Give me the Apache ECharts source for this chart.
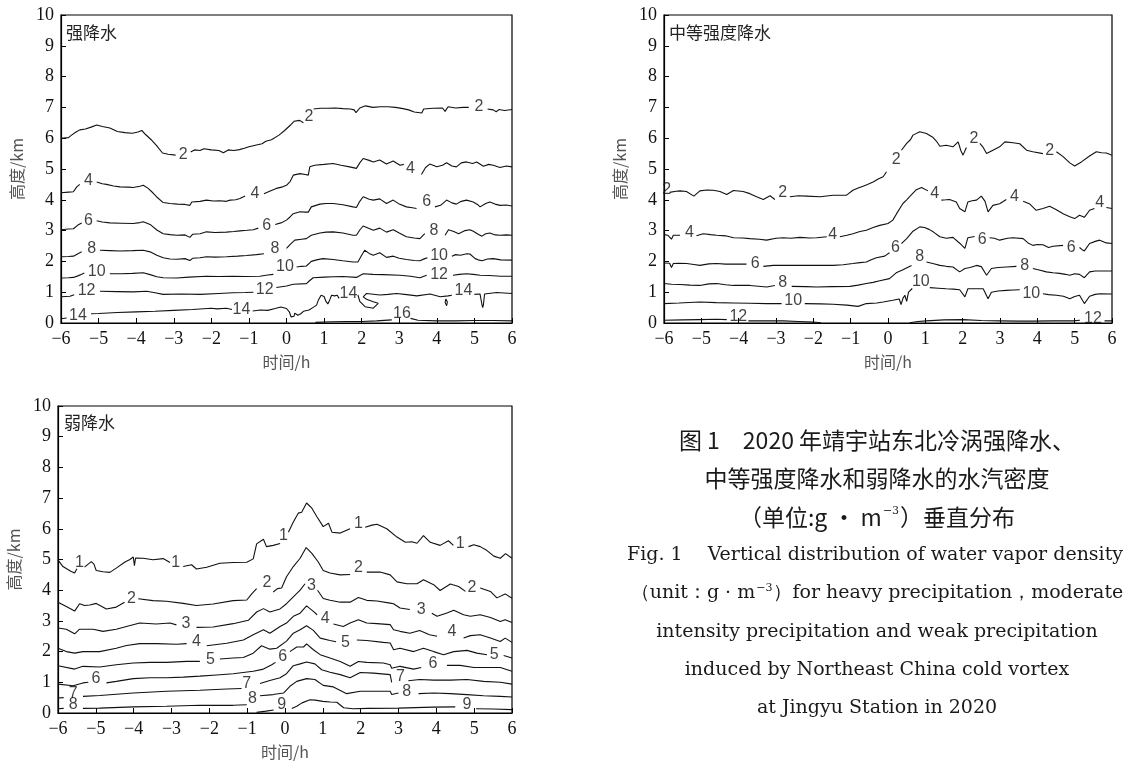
<!DOCTYPE html>
<html>
<head>
<meta charset="utf-8">
<script src="https://cdn.jsdelivr.net/npm/echarts@6/dist/echarts.min.js"></script>
<style>
html,body{margin:0;padding:0;background:#fff;}
#chart{width:1126px;height:765px;}
</style>
</head>
<body>
<div id="chart"></div>
<script>
// ---------- axis ticks ----------
const xTicks = [-6,-5,-4,-3,-2,-1,0,1,2,3,4,5,6];
const yTicks = [0,1,2,3,4,5,6,7,8,9,10];

// ---------- panel titles ----------
const panelTitles = ['强降水', '中等强度降水', '弱降水'];

// ---------- Panel 1: heavy precipitation contours (time h, height km); null = gap ----------
const p1c2 = [[-6,6.0],[-5.8,6.02],[-5.72,6.1],[-5.6,6.2],[-5.5,6.27],[-5.35,6.3],[-5.2,6.36],[-5.05,6.43],[-4.9,6.38],[-4.7,6.33],[-4.5,6.22],[-4.3,6.18],[-4.1,6.16],[-3.95,6.2],[-3.85,6.25],[-3.75,6.12],[-3.6,5.95],[-3.45,5.75],[-3.3,5.52],[-3.15,5.48],[-2.95,5.45],null,
[-2.55,5.55],[-2.45,5.62],[-2.3,5.6],[-2.2,5.66],[-2.0,5.62],[-1.8,5.6],[-1.68,5.53],[-1.55,5.62],[-1.4,5.6],[-1.25,5.63],[-1.1,5.68],[-1.0,5.72],[-0.8,5.78],[-0.65,5.82],[-0.55,5.9],[-0.4,5.95],[-0.2,6.1],[-0.05,6.25],[0.1,6.42],[0.2,6.55],[0.35,6.58],[0.45,6.5],null,
[0.72,6.95],[0.9,6.97],[1.1,6.97],[1.3,6.98],[1.5,6.96],[1.7,6.95],[1.8,6.92],[1.85,6.83],[1.95,6.98],[2.1,7.05],[2.3,7.0],[2.5,7.02],[2.7,7.02],[2.9,7.0],[3.1,6.96],[3.25,6.92],[3.4,6.85],[3.6,6.82],[3.65,6.95],[3.9,6.97],[4.15,6.98],[4.22,6.87],[4.3,7.02],[4.5,6.98],[4.7,7.0],[4.85,7.0],null,
[5.35,6.95],[5.5,6.92],[5.58,6.86],[5.65,6.93],[5.8,6.9],[6,6.93]];
const p1c4 = [[-6,4.23],[-5.8,4.25],[-5.67,4.26],[-5.58,4.42],[-5.5,4.5],null,
[-5.05,4.58],[-4.9,4.52],[-4.79,4.5],[-4.6,4.45],[-4.43,4.42],[-4.2,4.41],[-4.08,4.4],[-3.9,4.44],[-3.81,4.47],[-3.68,4.37],[-3.55,4.22],[-3.46,4.1],[-3.28,3.91],[-3.1,3.88],[-2.9,3.86],[-2.7,3.85],[-2.57,3.82],[-2.52,3.93],[-2.3,3.95],[-2.13,3.99],[-1.95,3.96],[-1.77,3.97],[-1.6,3.95],[-1.5,3.99],[-1.35,4.0],[-1.24,4.04],[-1.1,4.12],null,
[-0.6,4.2],[-0.45,4.28],[-0.27,4.37],[-0.1,4.42],[0,4.47],[0.1,4.6],[0.18,4.8],[0.36,4.85],[0.5,4.82],[0.58,4.8],[0.62,5.07],[0.75,5.12],[1.0,5.15],[1.24,5.18],[1.45,5.12],[1.68,5.07],[1.86,5.02],[1.95,5.2],[2.04,5.34],[2.2,5.28],[2.31,5.23],[2.48,5.29],[2.66,5.16],[2.84,5.26],[3.02,5.12],[3.12,5.15],null,
[3.59,4.82],[3.7,5.05],[3.81,5.16],[4.0,5.07],[4.15,5.12],[4.26,5.2],[4.4,5.1],[4.52,5.07],[4.65,5.2],[4.79,5.23],[4.95,5.18],[5.06,5.23],[5.24,5.09],[5.38,5.15],[5.5,5.12],[5.68,5.05],[5.85,5.1],[6,5.07]];
const p1c6 = [[-6,3.03],[-5.8,3.05],[-5.67,3.06],[-5.55,3.18],[-5.45,3.25],null,
[-5.05,3.32],[-4.9,3.28],[-4.7,3.25],[-4.4,3.24],[-4.08,3.23],[-3.9,3.26],[-3.81,3.29],[-3.63,3.2],[-3.45,3.02],[-3.28,2.9],[-3.1,2.87],[-2.92,2.85],[-2.7,2.86],[-2.57,2.78],[-2.5,2.88],[-2.3,2.9],[-2.13,2.96],[-1.9,2.94],[-1.6,2.95],[-1.4,2.97],[-1.24,2.99],[-1.05,3.01],[-0.88,3.03],[-0.75,3.08],null,
[-0.3,3.2],[-0.15,3.25],[0,3.34],[0.1,3.45],[0.18,3.55],[0.36,3.61],[0.5,3.6],[0.58,3.6],[0.66,3.77],[0.89,3.86],[1.05,3.88],[1.24,3.88],[1.5,3.84],[1.77,3.77],[1.86,3.75],[1.95,3.95],[2.04,4.1],[2.2,4.02],[2.31,3.99],[2.48,4.03],[2.66,3.88],[2.84,3.99],[3.0,3.86],[3.19,3.77],[3.35,3.74],[3.46,3.72],null,
[3.95,3.77],[4.1,3.82],[4.26,3.99],[4.4,3.9],[4.52,3.86],[4.65,3.95],[4.79,3.99],[4.97,3.93],[5.08,3.85],[5.15,3.77],[5.3,3.88],[5.41,3.93],[5.55,3.86],[5.68,3.82],[5.85,3.83],[6,3.8]];
const p1c8 = [[-6,2.15],[-5.8,2.16],[-5.67,2.17],[-5.55,2.25],[-5.45,2.31],null,
[-4.96,2.36],[-4.7,2.35],[-4.43,2.34],[-4.1,2.35],[-3.81,2.36],[-3.63,2.31],[-3.45,2.2],[-3.28,2.12],[-3.1,2.08],[-2.92,2.07],[-2.7,2.09],[-2.57,2.03],[-2.5,2.1],[-2.3,2.12],[-2.13,2.15],[-1.9,2.14],[-1.6,2.15],[-1.3,2.17],[-1.06,2.19],[-0.8,2.22],[-0.6,2.25],null,
[0,2.42],[0.1,2.55],[0.22,2.69],[0.4,2.72],[0.53,2.74],[0.66,2.85],[0.89,2.92],[1.05,2.95],[1.24,2.96],[1.5,2.92],[1.77,2.85],[1.86,2.85],[1.95,3.02],[2.04,3.15],[2.2,3.07],[2.31,3.01],[2.48,3.08],[2.66,2.95],[2.84,3.03],[3.0,2.92],[3.19,2.8],[3.4,2.76],[3.55,2.74],[3.68,2.9],null,
[4.22,2.85],[4.31,3.03],[4.45,2.97],[4.58,2.9],[4.75,3.0],[4.88,3.03],[4.97,2.98],[5.1,2.88],[5.2,2.82],[5.3,2.9],[5.41,2.92],[5.55,2.86],[5.68,2.85],[5.85,2.86],[6,2.85]];
const p1c10 = [[-6,1.46],[-5.8,1.47],[-5.67,1.48],[-5.55,1.53],[-5.45,1.58],[-5.38,1.62],null,
[-4.7,1.6],[-4.4,1.6],[-4.1,1.61],[-3.81,1.63],[-3.63,1.57],[-3.45,1.5],[-3.28,1.47],[-2.92,1.46],[-2.6,1.49],[-2.13,1.52],[-1.8,1.51],[-1.42,1.52],[-1.1,1.51],[-0.71,1.52],[-0.5,1.56],[-0.35,1.58],null,
[0.27,1.82],[0.4,1.84],[0.53,1.85],[0.66,2.0],[0.8,2.05],[0.97,2.09],[1.24,2.06],[1.5,2.02],[1.77,1.98],[1.9,1.98],[2.0,2.2],[2.08,2.36],[2.2,2.26],[2.31,2.2],[2.48,2.28],[2.66,2.13],[2.84,2.17],[3.0,2.1],[3.19,2.06],[3.4,2.03],[3.55,2.02],[3.68,2.09],[3.75,2.12],null,
[4.4,2.17],[4.5,2.22],[4.63,2.2],[4.8,2.25],[4.88,2.24],[5.02,2.09],[5.1,2.05],[5.2,2.02],[5.35,2.08],[5.5,2.09],[5.7,2.05],[6,2.04]];
const p1c12 = [[-6,0.85],[-5.76,0.87],[-5.65,0.92],null,
[-4.96,1.03],[-4.5,1.02],[-4.08,1.01],[-3.72,1.03],[-3.5,0.98],[-3.28,0.93],[-2.8,0.94],[-2.3,0.93],[-1.8,0.96],[-1.42,0.98],[-1.1,0.99],[-0.88,1.0],null,
[-0.27,1.15],[0,1.2],[0.18,1.26],[0.53,1.28],[0.62,1.38],[0.71,1.47],[1.0,1.49],[1.24,1.5],[1.5,1.51],[1.86,1.48],[2.04,1.6],[2.3,1.58],[2.57,1.57],[3.02,1.55],[3.3,1.52],[3.55,1.47],[3.73,1.55],null,
[4.43,1.55],[4.6,1.58],[4.79,1.6],[4.97,1.58],[5.15,1.55],[5.4,1.54],[5.7,1.52],[6,1.52]];
const p1c14 = [[-6,0.14],[-5.85,0.16],null,
[-5.2,0.3],[-5.0,0.31],[-4.5,0.34],[-4.0,0.36],[-3.5,0.38],[-3.0,0.41],[-2.5,0.44],[-2.0,0.48],[-1.95,0.52],[-1.85,0.46],[-1.6,0.48],[-1.45,0.44],null,
[-0.9,0.39],[-0.7,0.42],[-0.5,0.41],[-0.3,0.47],[-0.15,0.52],[0.0,0.47],[0.08,0.35],[0.12,0.2],[0.2,0.22],[0.22,0.32],[0.3,0.25],[0.38,0.3],[0.45,0.38],[0.6,0.42],[0.7,0.5],[0.8,0.58],[0.85,0.75],[0.92,0.9],[1.0,0.86],[1.05,0.7],[1.1,0.62],[1.15,0.75],[1.2,0.9],[1.28,0.88],[1.35,0.9],[1.4,0.8],null,
[1.9,0.91],[1.95,0.7],[2.09,0.53],[2.31,0.48],[2.44,0.64],[2.31,0.69],[2.13,0.77],[2.04,0.85],[2.13,0.96],[2.49,0.91],[2.7,0.93],[2.93,0.96],[3.2,0.92],[3.47,0.88],[3.82,0.94],[4.09,0.85],[4.3,0.88],[4.4,0.9],null,
[5.0,0.93],[5.15,0.94],[5.2,0.6],[5.22,0.5],[5.24,0.6],[5.27,0.94],[5.59,0.99],[6,0.96],null,
[4.24,0.78],[4.28,0.68],[4.26,0.56],[4.22,0.67],[4.24,0.78]];
const p1c16 = [[0.77,0.02],[1.2,0.04],[1.6,0.05],[2.0,0.05],[2.4,0.07],[2.8,0.1],null,
[3.3,0.15],[3.5,0.09],[4.0,0.07],[4.5,0.07],[5.0,0.08],[5.5,0.08],[6,0.07]];
const p1Labels = [[-2.75,5.47,'2'],[0.6,6.7,'2'],[5.12,7.02,'2'],
[-5.27,4.62,'4'],[-0.84,4.2,'4'],[3.3,5.02,'4'],
[-5.27,3.33,'6'],[-0.53,3.17,'6'],[3.73,3.93,'6'],
[-5.18,2.42,'8'],[-0.31,2.42,'8'],[3.92,3.0,'8'],
[-5.05,1.66,'10'],[-0.04,1.82,'10'],[4.06,2.2,'10'],
[-5.32,1.04,'12'],[-0.58,1.08,'12'],[4.06,1.58,'12'],
[-5.55,0.25,'14'],[-1.2,0.43,'14'],[1.65,0.96,'14'],[4.71,1.05,'14'],
[3.07,0.3,'16']];

// ---------- Panel 2: moderate precipitation ----------
const p2c2 = [[-5.85,4.24],[-5.8,4.23],[-5.68,4.28],[-5.57,4.29],[-5.4,4.27],[-5.2,4.12],[-5.04,4.29],[-4.85,4.32],[-4.68,4.31],[-4.5,4.27],[-4.32,4.17],[-4.14,4.3],[-3.88,4.27],[-3.7,4.2],[-3.52,4.1],[-3.34,4.01],[-3.16,4.13],[-3.03,4.01],null,
[-2.63,4.1],[-2.4,4.13],[-2.18,4.12],[-1.82,4.1],[-1.47,4.15],[-1.11,4.15],[-0.94,4.31],[-0.8,4.38],[-0.67,4.44],[-0.55,4.5],[-0.4,4.58],[-0.25,4.68],[-0.13,4.75],[-0.04,4.91],null,
[0.36,5.61],[0.5,5.83],[0.6,5.95],[0.67,6.1],[0.85,6.21],[1.03,6.15],[1.21,6.02],[1.3,5.9],[1.39,5.74],[1.56,5.77],[1.74,5.72],[1.88,5.88],[1.95,5.6],[2.01,5.45],[2.1,5.7],null,
[2.46,5.83],[2.55,5.7],[2.64,5.5],[2.81,5.61],[2.99,5.72],[3.13,5.88],[3.35,5.85],[3.53,5.82],[3.71,5.61],[3.88,5.56],[4.15,5.5],null,
[4.51,5.56],[4.69,5.4],[4.87,5.2],[5.0,5.1],[5.18,5.23],[5.4,5.42],[5.58,5.56],[5.72,5.53],[5.85,5.52],[6,5.45]];
const p2c4 = [[-6,2.87],[-5.9,2.85],[-5.8,2.72],[-5.75,2.85],[-5.57,2.85],null,
[-5.13,2.83],[-4.95,2.9],[-4.75,2.87],[-4.59,2.85],[-4.35,2.83],[-4.14,2.77],[-3.9,2.76],[-3.7,2.74],[-3.45,2.72],[-3.25,2.69],[-3.0,2.75],[-2.8,2.77],[-2.6,2.75],[-2.36,2.78],[-2.1,2.76],[-1.91,2.77],[-1.64,2.8],null,
[-1.29,2.8],[-1.1,2.85],[-0.94,2.9],[-0.75,2.97],[-0.58,3.01],[-0.4,3.1],[-0.22,3.17],[0,3.23],[0.13,3.34],[0.23,3.55],[0.4,3.88],[0.5,4.0],[0.58,4.1],[0.76,4.33],[0.9,4.4],[1.07,4.29],null,
[1.43,3.99],[1.55,4.0],[1.65,4.01],[1.83,3.93],[1.92,3.72],[2.06,3.61],[2.14,3.93],[2.25,3.97],[2.37,3.99],[2.5,4.12],[2.6,3.95],[2.68,3.61],[2.81,3.82],[2.99,3.87],[3.17,4.01],null,
[3.62,3.95],[3.8,3.86],[3.97,3.66],[4.15,3.72],[4.33,3.79],[4.51,3.68],[4.69,3.55],[4.87,3.45],[5.0,3.39],[5.13,3.5],[5.26,3.43],[5.4,3.66],[5.53,3.72],null,
[5.85,3.75],[6,3.72]];
const p2c6 = [[-6,1.95],[-5.85,1.94],[-5.8,1.8],[-5.75,1.93],[-5.6,1.94],[-5.39,1.93],[-5.2,1.9],[-5.04,1.87],[-4.8,1.92],[-4.59,1.93],[-4.35,1.91],[-4.14,1.91],[-3.79,1.91],null,
[-3.34,1.84],[-3.07,1.87],[-2.7,1.87],[-2.36,1.87],[-2.0,1.87],[-1.47,1.87],[-1.2,1.89],[-0.94,1.93],[-0.75,1.96],[-0.58,1.98],[-0.45,2.05],[-0.31,2.12],[-0.09,2.17],[0.04,2.28],null,
[0.36,2.58],[0.5,2.74],[0.67,2.98],[0.85,3.12],[0.98,3.1],[1.1,3.04],[1.21,2.96],[1.39,2.8],[1.56,2.75],[1.74,2.78],[1.92,2.59],[2.06,2.42],[2.14,2.77],[2.32,2.81],null,
[2.72,2.77],[2.85,2.75],[2.99,2.69],[3.2,2.75],[3.35,2.77],[3.62,2.74],[3.75,2.6],[3.88,2.52],[4.0,2.55],[4.15,2.54],[4.3,2.45],[4.42,2.49],[4.69,2.52],null,
[5.13,2.45],[5.2,2.38],[5.26,2.34],[5.4,2.58],[5.55,2.65],[5.67,2.69],[5.85,2.6],[6,2.58]];
const p2c8 = [[-6,1.28],[-5.8,1.26],[-5.57,1.25],[-5.3,1.23],[-5.04,1.22],[-4.8,1.27],[-4.59,1.28],[-4.35,1.24],[-4.14,1.22],[-3.7,1.22],[-3.25,1.17],[-3.03,1.22],null,
[-2.58,1.19],[-2.2,1.18],[-1.91,1.17],[-1.5,1.18],[-1.02,1.19],[-0.8,1.23],[-0.58,1.28],[-0.4,1.32],[-0.22,1.37],[0.04,1.44],[0.22,1.63],[0.4,1.73],[0.63,1.87],null,
[1.03,1.98],[1.2,1.93],[1.39,1.87],[1.56,1.84],[1.74,1.82],[1.92,1.66],[2.06,1.77],[2.2,1.8],[2.37,1.87],[2.5,1.83],[2.64,1.55],[2.77,1.77],[2.95,1.8],[3.17,1.82],[3.44,1.84],null,
[3.88,1.77],[4.05,1.72],[4.24,1.66],[4.42,1.63],[4.6,1.61],[4.75,1.58],[4.87,1.55],[5.0,1.6],[5.13,1.58],[5.26,1.47],[5.4,1.66],[5.55,1.69],[5.67,1.69],[6,1.69]];
const p2c10 = [[-6,0.63],[-5.6,0.65],[-5.04,0.68],[-4.6,0.66],[-4.14,0.65],[-3.7,0.64],[-3.25,0.63],[-2.85,0.63],null,
[-2.23,0.63],[-1.8,0.62],[-1.47,0.61],[-1.1,0.58],[-0.8,0.54],[-0.58,0.63],[-0.3,0.65],[-0.13,0.68],[0.13,0.74],[0.3,0.78],[0.35,0.6],[0.4,0.8],[0.45,0.9],[0.5,0.7],[0.55,1.0],[0.65,1.12],null,
[1.12,1.15],[1.35,1.13],[1.56,1.11],[1.75,1.1],[1.92,1.08],[2.06,0.85],[2.14,1.11],[2.35,1.11],[2.55,1.11],[2.68,0.79],[2.77,1.0],[2.95,1.04],[3.17,1.06],[3.35,1.07],[3.53,1.08],null,
[4.15,0.95],[4.3,0.92],[4.51,0.9],[4.7,0.87],[4.87,0.79],[5.0,0.86],[5.13,0.9],[5.26,0.63],[5.4,0.87],[5.55,0.93],[5.67,0.95],[6,0.94]];
const p2c12 = [[-6,0.09],[-5.5,0.1],[-5.04,0.11],[-4.6,0.12],[-4.32,0.11],null,
[-3.74,0.07],[-3.3,0.07],[-2.8,0.07],[-2.4,0.05],[-2.0,0.03],[-1.8,0.01],null,
[0.58,0.01],[0.8,0.05],[1.03,0.07],[1.5,0.1],[2.01,0.11],[2.5,0.08],[2.99,0.07],[3.5,0.06],[3.88,0.06],[4.4,0.07],[4.96,0.07],[5.14,0.09],null,
[5.8,0.07],[6,0.07]];
const p2Labels = [[-5.93,4.32,'2'],[-2.82,4.23,'2'],[0.22,5.3,'2'],[2.3,5.99,'2'],[4.33,5.6,'2'],
[-5.32,2.93,'4'],[-1.48,2.88,'4'],[1.25,4.2,'4'],[3.39,4.1,'4'],[5.67,3.9,'4'],
[-3.56,1.93,'6'],[0.2,2.45,'6'],[2.52,2.72,'6'],[4.91,2.45,'6'],
[-2.82,1.3,'8'],[0.85,2.15,'8'],[3.66,1.87,'8'],
[-2.54,0.74,'10'],[0.88,1.33,'10'],[3.84,0.95,'10'],
[-4.01,0.22,'12'],[5.49,0.13,'12']];

// ---------- Panel 3: weak precipitation ----------
const p3c1 = [[-6,4.99],[-5.87,4.77],[-5.75,4.68],[-5.65,4.61],[-5.56,4.56],[-5.5,4.7],null,
[-5.3,4.75],[-5.25,4.77],[-5.12,4.93],[-5.05,4.85],[-4.99,4.64],[-4.81,4.6],[-4.63,4.58],[-4.46,4.72],[-4.24,4.91],[-4.1,5.0],[-4.01,5.08],[-3.98,4.8],[-3.95,5.05],[-3.75,5.04],[-3.49,4.99],[-3.22,5.03],[-3.04,4.9],null,
[-2.69,4.77],[-2.47,4.83],[-2.34,4.69],[-2.07,4.75],[-1.72,4.88],[-1.37,4.9],[-1.01,4.91],[-0.84,5.02],[-0.75,5.51],[-0.57,5.66],[-0.49,5.42],[-0.31,5.46],[-0.13,5.52],null,
[0.09,5.89],[0.22,6.22],[0.35,6.51],[0.44,6.54],[0.57,6.84],[0.71,6.67],[0.84,6.4],[1.01,6.07],[1.15,6.18],[1.24,5.89],[1.46,5.86],[1.72,6.0],null,
[2.12,6.05],[2.3,6.12],[2.43,6.15],[2.69,6.0],[2.96,5.73],[3.18,5.56],[3.35,5.58],[3.49,5.53],[3.66,5.78],[3.84,5.56],[4.1,5.46],[4.32,5.61],[4.45,5.46],null,
[4.85,5.42],[4.99,5.48],[5.16,5.42],[5.34,5.29],[5.52,5.11],[5.69,5.04],[5.83,5.19],[6,5.04]];
const p3c2 = [[-6,3.61],[-5.78,3.47],[-5.56,3.32],[-5.43,3.56],[-5.3,3.5],[-5.16,3.52],[-4.99,3.57],[-4.72,3.39],[-4.46,3.45],[-4.24,3.61],null,
[-3.88,3.72],[-3.49,3.66],[-3.13,3.64],[-2.69,3.57],[-2.34,3.5],[-1.9,3.55],[-1.37,3.66],[-1.01,3.68],[-0.88,3.88],[-0.75,4.05],null,
[-0.31,3.94],[-0.2,4.05],[-0.09,4.07],[0.04,4.44],[0.22,4.77],[0.4,5.04],[0.56,5.39],[0.71,5.2],[0.88,4.92],[1.01,4.64],[1.19,4.56],[1.46,4.5],[1.72,4.51],null,
[2.16,4.59],[2.51,4.59],[2.78,4.5],[2.96,4.27],[3.22,4.21],[3.49,4.21],[3.66,4.34],[3.93,4.18],[4.1,3.99],[4.37,4.2],[4.59,4.12],[4.77,3.96],null,
[5.16,4.07],[5.43,3.96],[5.6,3.75],[5.82,3.88],[6,3.74]];
const p3c3 = [[-6,2.77],[-5.78,2.73],[-5.56,2.58],[-5.43,2.73],[-5.07,2.73],[-4.81,2.66],[-4.46,2.73],[-4.19,2.82],[-3.84,2.93],[-3.4,2.9],[-3.04,2.93],[-2.87,2.87],null,
[-2.34,2.79],[-1.9,2.8],[-1.37,2.91],[-0.97,3.02],[-0.75,3.29],[-0.57,3.4],[-0.4,3.29],[-0.13,3.39],[0.04,3.56],[0.22,3.78],[0.4,4.0],[0.53,4.21],null,
[0.86,4.0],[1.01,3.73],[1.19,3.67],[1.46,3.61],[1.72,3.61],[1.94,3.76],[2.16,3.67],[2.43,3.65],[2.78,3.58],[2.87,3.56],[3.04,3.42],[3.3,3.37],null,
[3.88,3.25],[4.02,3.15],[4.28,3.26],[4.46,3.35],[4.72,3.2],[4.9,3.15],[5.16,3.2],[5.43,3.11],[5.69,2.98],[5.82,3.04],[6,2.95]];
const p3c4 = [[-6,2.11],[-5.78,2.0],[-5.56,1.95],[-5.34,2.0],[-4.9,2.0],[-4.46,2.11],[-4.19,2.2],[-3.84,2.26],[-3.4,2.26],[-2.87,2.24],[-2.6,2.26],null,
[-2.07,2.19],[-1.54,2.27],[-1.1,2.38],[-0.84,2.55],[-0.57,2.71],[-0.4,2.6],[-0.13,2.82],[0.04,2.93],[0.22,3.15],[0.4,3.25],[0.57,3.49],[0.75,3.31],[0.85,3.2],null,
[1.28,2.9],[1.54,2.82],[1.72,2.93],[1.94,3.04],[2.16,2.93],[2.43,2.91],[2.78,2.88],[2.87,2.71],[3.04,2.66],[3.3,2.6],[3.56,2.69],[3.82,2.55],[4.02,2.5],null,
[4.72,2.44],[4.9,2.52],[5.16,2.55],[5.43,2.44],[5.69,2.33],[5.82,2.44],[6,2.3]];
const p3c5 = [[-6,1.54],[-5.56,1.43],[-5.34,1.52],[-4.9,1.5],[-4.46,1.57],[-4.01,1.63],[-3.57,1.65],[-3.13,1.65],[-2.6,1.68],[-2.25,1.68],null,
[-1.72,1.76],[-1.37,1.79],[-1.1,1.81],[-0.84,1.95],[-0.62,2.19],[-0.4,2.08],[-0.22,2.11],[0.04,2.34],[0.22,2.6],[0.4,2.71],[0.57,2.84],[0.75,2.69],[0.93,2.44],[1.19,2.36],[1.35,2.32],null,
[1.9,2.38],[2.16,2.36],[2.6,2.3],[2.78,2.28],[2.87,2.06],[3.04,2.11],[3.4,2.0],[3.66,2.11],[3.93,2.0],[4.19,1.9],[4.46,2.0],[4.81,2.04],[5.07,1.95],[5.34,1.9],null,
[5.78,1.87],[6,1.79]];
const p3c6 = [[-6,0.94],[-5.6,0.89],[-5.34,0.98],[-5.2,1.0],null,
[-4.72,0.98],[-4.46,1.03],[-4.01,1.12],[-3.57,1.15],[-3.13,1.15],[-2.69,1.17],[-2.25,1.2],[-1.81,1.24],[-1.37,1.28],[-0.84,1.36],[-0.57,1.43],[-0.35,1.57],[-0.25,1.65],null,
[0.13,2.0],[0.31,2.15],[0.49,2.15],[0.57,2.25],[0.75,2.06],[0.93,1.9],[1.19,1.79],[1.46,1.68],[1.72,1.52],[1.94,1.68],[2.16,1.65],[2.6,1.63],[2.78,1.57],[2.82,1.46],[3.04,1.52],[3.4,1.43],[3.6,1.48],null,
[4.28,1.55],[4.63,1.55],[4.99,1.48],[5.34,1.48],[5.69,1.48],[6,1.36]];
const p3c7 = [[-6,0.49],[-5.85,0.5],null,
[-5.34,0.54],[-4.9,0.57],[-4.01,0.65],[-3.13,0.71],[-2.25,0.74],[-1.54,0.78],[-1.15,0.8],null,
[-0.66,0.96],[-0.4,1.06],[-0.13,1.15],[0.04,1.28],[0.22,1.54],[0.4,1.6],[0.57,1.66],[0.79,1.6],[0.97,1.41],[1.19,1.33],[1.46,1.25],[1.72,1.15],[1.99,1.32],[2.34,1.3],[2.78,1.25],[2.82,1.0],null,
[3.26,1.05],[3.56,1.09],[3.93,1.07],[4.37,1.07],[4.81,1.09],[5.25,1.03],[5.69,1.0],[6,0.94]];
const p3c8 = [[-6,0.14],[-5.85,0.15],null,
[-5.34,0.15],[-4.9,0.16],[-4.01,0.2],[-3.13,0.22],[-2.25,0.25],[-1.37,0.25],[-1.01,0.27],null,
[-0.66,0.56],[-0.31,0.6],[-0.04,0.65],[0.13,0.87],[0.31,1.03],[0.57,1.12],[0.79,1.09],[1.01,0.9],[1.28,0.85],[1.63,0.63],[1.99,0.71],[2.34,0.71],[2.78,0.71],[2.82,0.6],[3.0,0.65],null,
[3.53,0.63],[3.93,0.65],[4.37,0.63],[4.81,0.6],[5.25,0.56],[5.69,0.54],[6,0.52]];
const p3c9 = [[-0.75,0.02],[-0.5,0.06],[-0.3,0.1],null,
[0.18,0.15],[0.31,0.22],[0.45,0.33],[0.66,0.43],[0.8,0.42],[1.0,0.38],[1.2,0.36],[1.37,0.35],[1.55,0.17],[1.8,0.14],[2.2,0.15],[3.0,0.16],[3.9,0.19],[4.5,0.2],null,
[5.05,0.14],[5.5,0.13],[6,0.11]];
const p3Labels = [[-5.43,4.91,'1'],[-2.89,4.91,'1'],[-0.04,5.78,'1'],[1.94,6.16,'1'],[4.63,5.53,'1'],
[-4.06,3.72,'2'],[-0.48,4.25,'2'],[1.94,4.75,'2'],[4.94,4.1,'2'],
[-2.62,2.91,'3'],[0.7,4.15,'3'],[3.6,3.36,'3'],
[-2.34,2.31,'4'],[1.06,3.06,'4'],[4.41,2.64,'4'],
[-1.97,1.74,'5'],[1.6,2.3,'5'],[5.53,1.9,'5'],
[-5.0,1.11,'6'],[-0.06,1.84,'6'],[3.91,1.61,'6'],
[-5.6,0.62,'7'],[-1.01,0.95,'7'],[3.05,1.19,'7'],
[-5.6,0.27,'8'],[-0.86,0.47,'8'],[3.22,0.71,'8'],
[-0.09,0.27,'9'],[4.81,0.28,'9']];

// ---------- build ----------
const panelContours = [
  [p1c2,p1c4,p1c6,p1c8,p1c10,p1c12,p1c14,p1c16],
  [p2c2,p2c4,p2c6,p2c8,p2c10,p2c12],
  [p3c1,p3c2,p3c3,p3c4,p3c5,p3c6,p3c7,p3c8,p3c9]
];
const panelLabels = [p1Labels, p2Labels, p3Labels];

const grids = [
  {left:61, top:15, width:451, height:308},
  {left:664, top:15, width:448, height:308},
  {left:58, top:406, width:454, height:307}
];

const serif = "'Liberation Serif', 'Times New Roman', serif";
const cjk = "'Noto Sans CJK SC', sans-serif";
const fmtX = v => v < 0 ? '\u2212' + (-v) : String(v);

const xAxes = [], yAxes = [], series = [];
grids.forEach((g, i) => {
  xAxes.push({
    gridIndex:i, type:'value', min:xTicks[0], max:xTicks[xTicks.length-1], interval:1,
    axisLine:{show:true, onZero:false, lineStyle:{color:'#000', width:1.2}},
    axisTick:{show:true, inside:true, length:5, lineStyle:{color:'#000'}},
    axisLabel:{fontFamily:serif, fontSize:18, color:'#111', margin:7, formatter:fmtX},
    splitLine:{show:false},
    name:'时间/h', nameLocation:'middle', nameGap:31,
    nameTextStyle:{fontFamily:cjk, fontSize:16, color:'#555'}
  });
  yAxes.push({
    gridIndex:i, type:'value', min:yTicks[0], max:yTicks[yTicks.length-1], interval:1,
    axisLine:{show:true, onZero:false, lineStyle:{color:'#000', width:1.2}},
    axisTick:{show:true, inside:true, length:5, lineStyle:{color:'#000'}},
    axisLabel:{fontFamily:serif, fontSize:18, color:'#111', margin:7},
    splitLine:{show:false},
    name:'高度/km', nameLocation:'middle', nameGap:36,
    nameTextStyle:{fontFamily:cjk, fontSize:16, color:'#555'}
  });
  panelContours[i].forEach(arr => {
    series.push({
      type:'line', xAxisIndex:i, yAxisIndex:i, showSymbol:false, symbol:'none',
      connectNulls:false, clip:true, silent:true, animation:false,
      lineStyle:{color:'#111', width:1.1},
      data: arr.map(p => p === null ? ['-','-'] : p)
    });
  });
  series.push({
    type:'scatter', xAxisIndex:i, yAxisIndex:i, symbolSize:1, silent:true, animation:false,
    itemStyle:{color:'rgba(0,0,0,0)'}, z:5,
    label:{show:true, position:'inside', formatter:p => p.data[2],
      fontFamily:"'Liberation Sans', Arial, sans-serif", fontSize:16, color:'#111'},
    data: panelLabels[i]
  });
});

const titlePos = [[66,33],[669,33],[64,423]];
const graphic = panelTitles.map((t, i) => ({
  type:'text', x:titlePos[i][0], y:titlePos[i][1], silent:true,
  style:{text:t, font:"17px 'Noto Sans CJK SC'", fill:'#222', align:'left', verticalAlign:'middle'}
}));

const capCN = "23px 'Noto Sans CJK SC'";
const capEN = "19px 'DejaVu Serif'";
const capLines = [
  {t:'图 1　2020 年靖宇站东北冷涡强降水、', y:440, f:capCN},
  {t:'中等强度降水和弱降水的水汽密度', y:478, f:capCN},
  {t:'（单位:g · m{sup|−3}）垂直分布', y:517, f:capCN},
  {t:'Fig. 1　 Vertical distribution of water vapor density', y:555, f:capEN, left:627},
  {t:'（unit：g · m{sup|−3}）for heavy precipitation，moderate', y:593, f:capEN},
  {t:'intensity precipitation and weak precipitation', y:632, f:capEN},
  {t:'induced by Northeast China cold vortex', y:670, f:capEN},
  {t:'at Jingyu Station in 2020', y:708, f:capEN}
];
capLines.forEach(l => {
  graphic.push({
    type:'text', x: l.left ? l.left : 877, y:l.y, silent:true,
    style:{text:l.t, font:l.f, fill:'#1a1a1a', align: l.left ? 'left' : 'center', verticalAlign:'middle',
      rich:{sup:{fontSize:11, fontFamily:'DejaVu Serif', verticalAlign:'top', fill:'#1a1a1a', padding:[0,1,10,1]}}}
  });
});

const chart = echarts.init(document.getElementById('chart'), null, {renderer:'canvas'});
chart.setOption({
  animation:false,
  backgroundColor:'#fff',
  grid: grids.map(g => Object.assign({show:true, borderColor:'#000', borderWidth:1.2, backgroundColor:'transparent', containLabel:false}, g)),
  xAxis: xAxes,
  yAxis: yAxes,
  series: series,
  graphic: graphic
});
</script>
</body>
</html>
